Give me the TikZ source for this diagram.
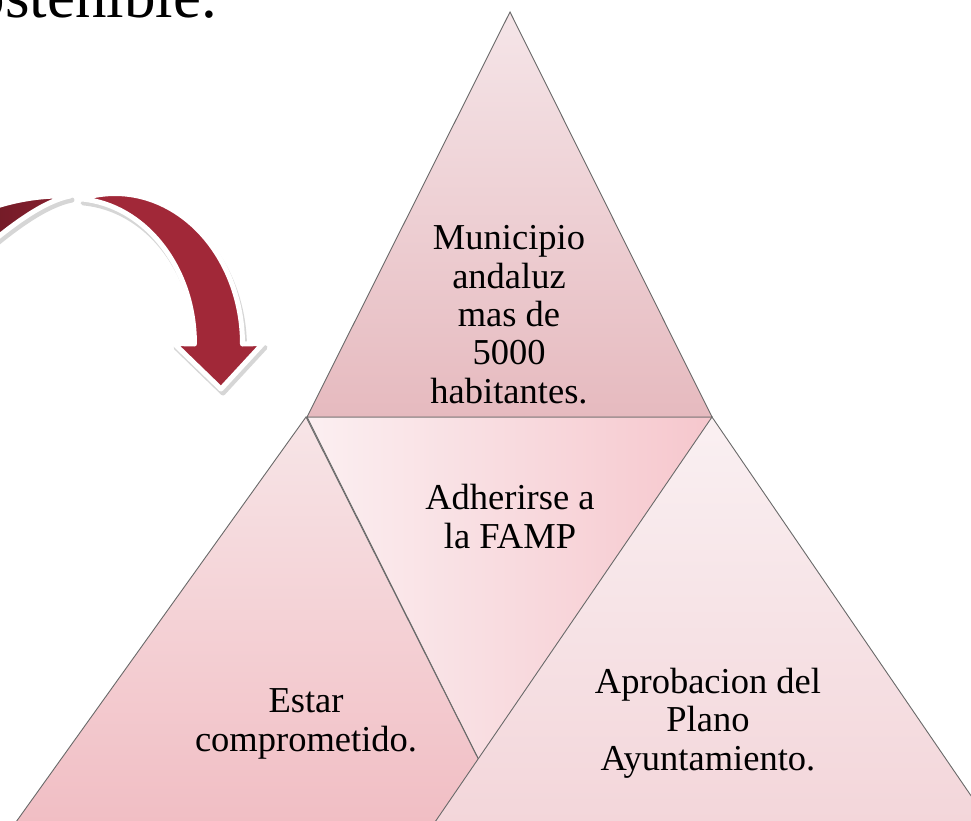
\documentclass[tikz,border=0pt]{standalone}
\usepackage{fontspec}
\setmainfont{Liberation Serif}
\definecolor{edgegray}{RGB}{105,105,105}
\definecolor{topA}{RGB}{245,229,232}
\definecolor{topB}{RGB}{230,186,191}
\definecolor{midA}{RGB}{251,239,241}
\definecolor{midB}{RGB}{246,199,205}
\definecolor{leftA}{RGB}{247,229,231}
\definecolor{leftB}{RGB}{241,190,196}
\definecolor{rightA}{RGB}{250,240,242}
\definecolor{rightB}{RGB}{243,214,218}
\definecolor{arrowred}{RGB}{161,40,56}
\definecolor{arrowdarkA}{RGB}{112,26,38}
\definecolor{arrowdarkB}{RGB}{136,33,48}
\begin{document}
\begin{tikzpicture}[x=1pt,y=-1pt]
\tikzset{
  seg/.style={draw=edgegray, line width=0.9pt, line join=miter},
  lbl/.style={align=center, inner sep=0pt, font=\fontsize{36.5}{38.3}\selectfont, text=black},
  arrowline/.style={draw=white, line width=5pt, line join=round},
  arrowshadow/.style={fill=black!16, draw=black!16, line width=5pt, line join=round},
}
\useasboundingbox (0,0) rectangle (971,820);
\fill[white] (0,0) rectangle (971,820);

% title fragment
\node (title) [anchor=base east, inner sep=0pt, font=\fontsize{63}{63}\selectfont] at (217,17.5) {ostenible.};

% curved arrow
\def\backpath{(-20,212) .. controls (10,200) and (40,195) .. (70,196) .. controls (45,201) and (15,222) .. (-20,252) -- cycle}
\def\frontpath{(242.5,344) arc[start angle=0,end angle=-105.4,x radius=127.5,y radius=150.5] arc[start angle=-85.7,end angle=0,x radius=122.5,y radius=145.5] -- (174,343.5) -- (221,389) -- (263,343.5) -- cycle}
\begin{scope}[shift={(2,4)}]
  \path[arrowshadow] \backpath;
  \path[arrowshadow] \frontpath;
\end{scope}
\path[arrowline, left color=arrowdarkA, right color=arrowdarkB] \backpath;
\path[arrowline, fill=arrowred] \frontpath;

% pyramid segments
\path[seg, left color=midA, right color=midB] (307,417) -- (712,417) -- (510,822) -- cycle;
\path[seg, top color=leftA, bottom color=leftB] (306,417) -- (510,822) -- (16,822) -- cycle;
\path[seg, top color=rightA, bottom color=rightB] (712,417) -- (989,822) -- (435,822) -- cycle;
\path[seg, top color=topA, bottom color=topB] (510,12) -- (712,417) -- (307,417) -- cycle;

% labels (anchor = baseline of the last line)
\node (ltop) [lbl, anchor=base] at (509,403) {Municipio\\andaluz\\mas de\\5000\\habitantes.};
\node (lmid) [lbl, anchor=base] at (510,548) {Adherirse a\\la FAMP};
\node (lleft) [lbl, anchor=base] at (306,751) {Estar\\comprometido.};
\node (lright) [lbl, anchor=base] at (708,770) {Aprobacion del\\Plano\\Ayuntamiento.};
\end{tikzpicture}
\end{document}
